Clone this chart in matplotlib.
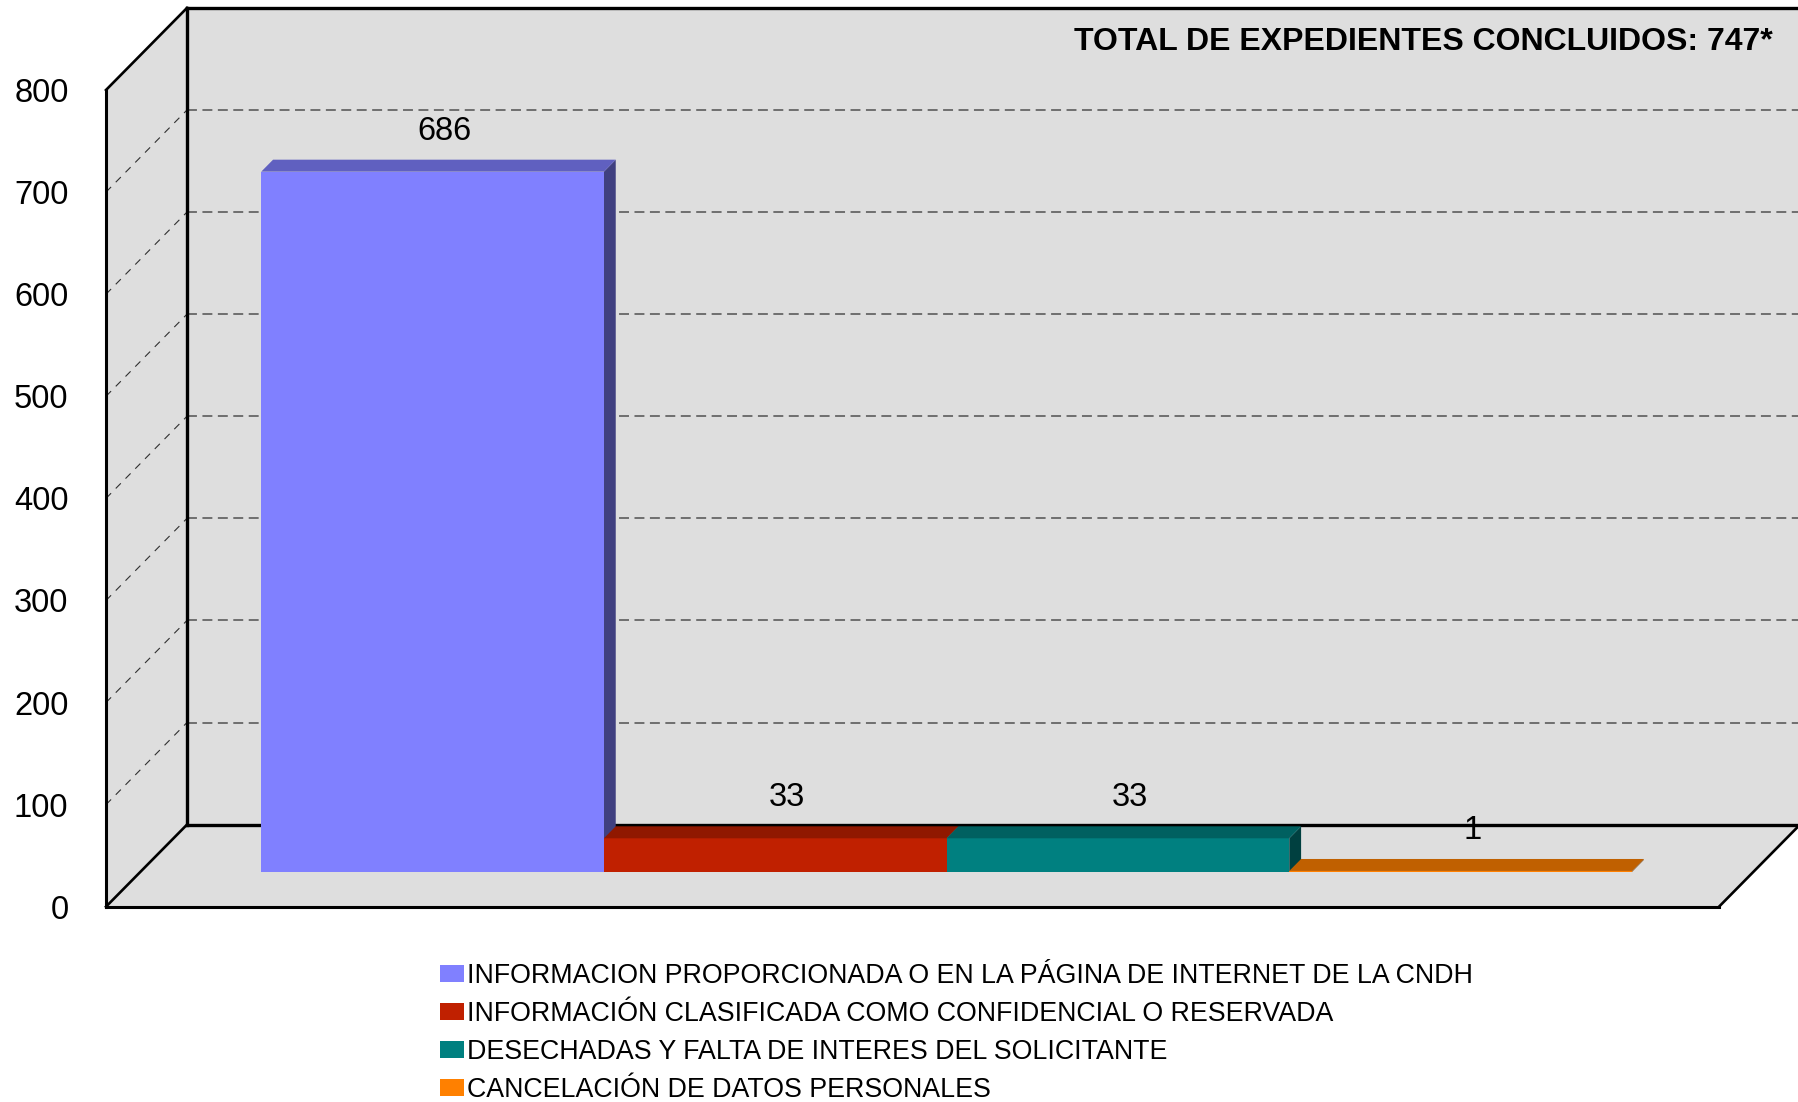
import matplotlib; matplotlib.use("Agg")
import matplotlib.pyplot as plt
from matplotlib.patches import Patch, Polygon

plt.rcParams['font.family'] = ['Liberation Sans', 'DejaVu Sans']

LABELS = ["INFORMACION PROPORCIONADA O EN LA PÁGINA DE INTERNET DE LA CNDH",
          "INFORMACIÓN CLASIFICADA COMO CONFIDENCIAL O RESERVADA",
          "DESECHADAS Y FALTA DE INTERES DEL SOLICITANTE",
          "CANCELACIÓN DE DATOS PERSONALES"]
VALUES = [686, 33, 33, 1]
FRONT = ["#8080FF", "#C02000", "#008080", "#FF8000"]
TOP = ["#6060C0", "#901800", "#006060", "#C06000"]
SIDE = ["#404080", "#601000", "#004040", "#804000"]
TICKS = [0, 100, 200, 300, 400, 500, 600, 700, 800]
TITLE = "TOTAL DE EXPEDIENTES CONCLUIDOS: 747*"

W, H = 1798, 1102
XL, XR = -0.853, 3.854
DX = 81 / 342.7   # full depth of the box, in category units
DY = 80.4         # full depth of the box, in value units
D0, D1 = 0.423, 0.569  # depth of the bars inside the box
WALL = "#DEDEDE"
DASH = (0, (6.5, 3.6))
DASH_SIDE = (0, (6.5, 6))


def pr(x, v, d):
    return x + d * DX, v + d * DY


fig = plt.figure(figsize=(W / 100, H / 100), dpi=100)
ax = fig.add_axes([106 / W, 1 - 906.7 / H, (1719 - 106) / W, (906.7 - 90) / H])
ax.set_xlim(XL, XR)
ax.set_ylim(0, 800)
ax.patch.set_visible(False)
for s in ["top", "right"]:
    ax.spines[s].set_visible(False)
for s in ["left", "bottom"]:
    ax.spines[s].set_linewidth(2.2)
    ax.spines[s].set_zorder(8)
ax.set_xticks([])
ax.set_yticks(TICKS)
ax.tick_params(axis="y", length=0, pad=27, labelsize=23.5)


def poly(pts, z=1, **kw):
    ax.add_patch(Polygon(pts, closed=True, clip_on=False, zorder=z, **kw))


def line(a, b, z=2, **kw):
    ax.plot([a[0], b[0]], [a[1], b[1]], clip_on=False, zorder=z, **kw)


# walls and floor
poly([pr(XL, 0, 1), pr(XR, 0, 1), pr(XR, 800, 1), pr(XL, 800, 1)], facecolor=WALL, edgecolor="none")
poly([pr(XL, 0, 0), pr(XL, 0, 1), pr(XL, 800, 1), pr(XL, 800, 0)], facecolor=WALL, edgecolor="none")
poly([pr(XL, 0, 0), pr(XR, 0, 0), pr(XR, 0, 1), pr(XL, 0, 1)], facecolor=WALL, edgecolor="none")

for t in TICKS[1:-1]:
    line(pr(XL, t, 1), pr(XR, t, 1), color="#505050", lw=1.1, linestyle=DASH)
    line(pr(XL, t, 0), pr(XL, t, 1), color="#303030", lw=0.8, linestyle=DASH_SIDE)

# box outline
line(pr(XL, 0, 1), pr(XL, 800, 1), z=3, color="black", lw=2.4)
line(pr(XL, 800, 1), pr(XR, 800, 1), z=3, color="black", lw=2.4)
line(pr(XL, 0, 1), pr(XR, 0, 1), z=3, color="black", lw=2.4)
line(pr(XL, 800, 0), pr(XL, 800, 1), z=3, color="black", lw=1.9)
line(pr(XL, 0, 0), pr(XL, 0, 1), z=3, color="black", lw=1.9)
line(pr(XR, 0, 0), pr(XR, 0, 1), z=3, color="black", lw=1.9)

# bars, left to right so each covers the side of the previous one
for i, v in enumerate(VALUES):
    x0, x1 = i - 0.5, i + 0.5
    z = 4 + i * 0.1
    poly([pr(x1, 0, D0), pr(x1, 0, D1), pr(x1, v, D1), pr(x1, v, D0)], z=z, facecolor=SIDE[i], edgecolor="none")
    ax.bar(i + D0 * DX, v, width=1.0, bottom=D0 * DY, color=FRONT[i], clip_on=False, zorder=z + 0.01)
    poly([pr(x0, v, D0), pr(x1, v, D0), pr(x1, v, D1), pr(x0, v, D1)], z=z + 0.02, facecolor=TOP[i], edgecolor="none")
    lx, ly = pr(i, v, D1)
    ax.text(lx, ly + 28, str(v), ha="center", va="center", fontsize=23.5, color="black", zorder=7)

fig.text(1773 / W, 1 - 42.5 / H, TITLE, ha="right", va="center", fontsize=23, fontweight="bold", zorder=9)

handles = [Patch(facecolor=c, edgecolor="none") for c in FRONT]
fig.legend(handles, LABELS, loc="upper left", bbox_to_anchor=(440 / W, 1 - 963 / H), frameon=False,
           fontsize=19.3, borderpad=0, borderaxespad=0, handlelength=0.9, handleheight=0.6,
           handletextpad=0.11, labelspacing=0.45)

fig.savefig("out.png", dpi=100)
